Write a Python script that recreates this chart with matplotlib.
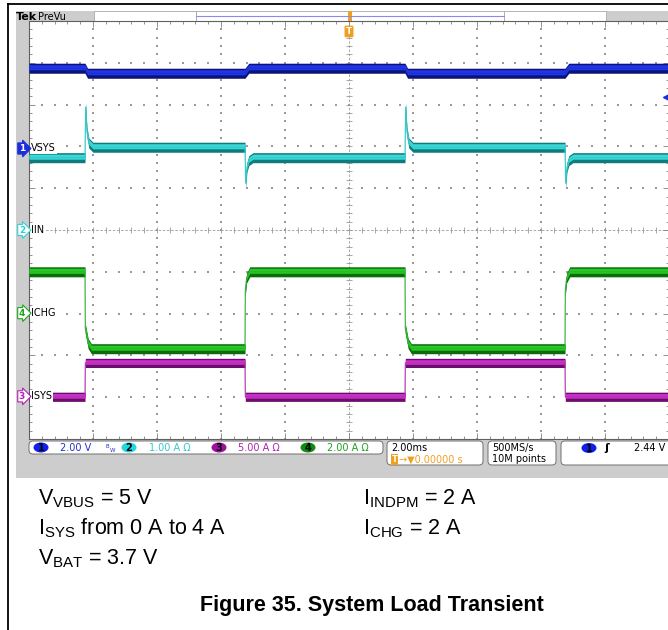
import matplotlib
matplotlib.use('Agg')
import matplotlib.pyplot as plt
from matplotlib.patches import Rectangle, FancyBboxPatch, Ellipse
import numpy as np

plt.rcParams['mathtext.fontset'] = 'custom'
plt.rcParams['mathtext.rm'] = 'Liberation Sans'
plt.rcParams['mathtext.bf'] = 'Liberation Sans:bold'

W, H = 668, 630

# load steps in ms (2 ms/div, trigger at 0), on / off / on / off
load_steps = [-8.25, -3.25, 1.75, 6.75]

# trace shapes at each edge: (dt in ms, level in screen divisions)
vbus_on = [(0.0, 3.87), (0.08, 3.75)]
vbus_off = [(0.0, 3.75), (0.12, 3.87)]
vsys_on = [(0.0, 1.73), (0.02, 2.94), (0.06, 2.35), (0.12, 2.08), (0.25, 1.98)]
vsys_off = [(0.0, 1.98), (0.02, 1.12), (0.06, 1.50), (0.12, 1.66), (0.25, 1.73)]
ichg_on = [(0.0, -1.00), (0.01, -2.36), (0.10, -2.72), (0.20, -2.84)]
ichg_off = [(0.0, -2.84), (0.01, -1.45), (0.05, -1.15), (0.15, -1.00)]
isys_on = [(0.0, -3.99), (0.01, -3.18)]
isys_off = [(0.0, -3.18), (0.01, -3.99)]

# channel markers: number, label, level (div)
chan_num = ['1', '2', '4', '3']
chan_name = ['VSYS', 'IIN', 'ICHG', 'ISYS']
chan_pos = [1.95, 0.0, -1.99, -3.98]

# status bar readouts
ch_scale = ['2.00 V', '1.00 A \u03a9', '5.00 A \u03a9', '2.00 A \u03a9']
timebase = '2.00ms'
trig_pos = '\u2192\u25bc0.00000 s'
rate = ['500MS/s', '10M points']
trig_level = '2.44 V'

notes_left = [r'V$_{\mathrm{VBUS}}$ = 5 V', r'I$_{\mathrm{SYS}}$ from 0 A to 4 A', r'V$_{\mathrm{BAT}}$ = 3.7 V']
notes_right = [r'I$_{\mathrm{INDPM}}$ = 2 A', r'I$_{\mathrm{CHG}}$ = 2 A']
title = 'Figure 35. System Load Transient'

BLUE = '#1a2ee0'
CYAN = '#2cd2d8'
MAG = '#b81cb8'
GRN = '#18a818'
ORANGE = '#f0a020'


def build(on, off):
    t = [-10.0]
    v = [on[0][1]]
    for i, t0 in enumerate(load_steps):
        shape = on if i % 2 == 0 else off
        for dt, lv in shape:
            t.append(t0 + dt)
            v.append(lv)
    t.append(10.0)
    v.append(v[-1])
    return np.array(t), np.array(v)


fig = plt.figure(figsize=(W / 100, H / 100), dpi=100)

# page / bezel decorations in pixel coordinates
pg = fig.add_axes([0, 0, 1, 1])
pg.set_xlim(0, W)
pg.set_ylim(H, 0)
pg.axis('off')
pg.plot([8, 8], [4, H], color='k', lw=1.3)
pg.plot([8, W], [4, 4], color='k', lw=1.3)
pg.add_patch(Rectangle((16, 11), W - 16, 467, fc='#cdcdcd', ec='none'))
pg.add_patch(Rectangle((94, 11), 102, 10, fc='white', ec='#a0a0a0', lw=0.5))
pg.add_patch(Rectangle((196, 11), 308, 10, fc='white', ec='#a0a0a0', lw=0.5))
pg.plot([196, 504], [16, 16], color='#8a8af0', lw=0.8)
pg.add_patch(Rectangle((504, 11), 102, 10, fc='white', ec='#a0a0a0', lw=0.5))
pg.add_patch(Rectangle((348, 11), 4, 10, fc=ORANGE, ec='none'))
pg.text(16, 20, 'Tek', fontsize=8, fontweight='bold', va='baseline', ha='left')
pg.text(38, 19.5, 'PreVu', fontsize=7, va='baseline', ha='left')

# status bar
pg.add_patch(FancyBboxPatch((29, 441), 354, 13, boxstyle='round,pad=0,rounding_size=4',
                            fc='white', ec='#707070', lw=0.7))
ell_x = [41, 129, 219, 308]
ell_c = ['#1020e8', '#20d8e0', '#a010a0', '#108c10']
txt_x = [60, 149, 238, 327]
txt_c = ['#2030d0', '#30c8d0', '#b020b0', '#20a020']
for i in range(4):
    pg.add_patch(Ellipse((ell_x[i], 447.5), 15, 10, fc=ell_c[i], ec='none'))
    pg.text(ell_x[i], 448, str(i + 1), fontsize=7, ha='center', va='center', fontweight='bold')
    pg.text(txt_x[i], 448, ch_scale[i], fontsize=7, ha='left', va='center', color=txt_c[i])
pg.text(106, 446, 'B', fontsize=4, color='#2030d0', ha='left', va='center')
pg.text(110, 450, 'W', fontsize=4, color='#2030d0', ha='left', va='center')

pg.add_patch(FancyBboxPatch((387, 441), 96, 24, boxstyle='round,pad=0,rounding_size=4',
                            fc='white', ec='#707070', lw=0.7))
pg.text(391, 448, timebase, fontsize=7, ha='left', va='center')
pg.text(394.5, 459.5, 'T', fontsize=6, ha='center', va='center', color='white', fontweight='bold',
        bbox=dict(boxstyle='square,pad=0.1', fc=ORANGE, ec='none'))
pg.text(399, 459.5, trig_pos, fontsize=7, ha='left', va='center', color=ORANGE)

pg.add_patch(FancyBboxPatch((488, 441), 68, 24, boxstyle='round,pad=0,rounding_size=4',
                            fc='white', ec='#707070', lw=0.7))
pg.text(492, 448, rate[0], fontsize=7, ha='left', va='center')
pg.text(492, 459.5, rate[1], fontsize=7, ha='left', va='center')

pg.add_patch(FancyBboxPatch((561, 441), 120, 24, boxstyle='round,pad=0,rounding_size=4',
                            fc='white', ec='#707070', lw=0.7))
pg.add_patch(Ellipse((589, 448), 15, 10, fc='#1020e8', ec='none'))
pg.text(589, 448.5, '1', fontsize=7, ha='center', va='center', fontweight='bold')
pg.text(607, 448, '\u0283', fontsize=8, ha='center', va='center', fontweight='bold')
pg.text(665, 448, trig_level, fontsize=7, ha='right', va='center')

# notes under the screenshot
for i, s in enumerate(notes_left):
    pg.text(38, 504 + 30 * i, s, fontsize=15.5, family='Liberation Sans', ha='left', va='baseline')
for i, s in enumerate(notes_right):
    pg.text(363, 504 + 30 * i, s, fontsize=15.5, family='Liberation Sans', ha='left', va='baseline')
pg.text(371.5, 611, title, fontsize=15.5, family='Liberation Sans', fontweight='bold',
        ha='center', va='baseline')

# scope screen
ax = fig.add_axes([29 / W, 1 - 439 / H, 640 / W, 418 / H])
ax.set_xlim(-10, 10)
ax.set_ylim(-5, 5)
ax.set_facecolor('white')
for sp in ax.spines.values():
    sp.set_color('#606060')
    sp.set_linewidth(0.8)

xmin = np.arange(-10, 10.01, 0.4)
ymin = np.arange(-5, 5.01, 0.2)
ax.set_xticks(np.arange(-10, 10.01, 2))
ax.set_xticks(xmin, minor=True)
ax.set_yticks(np.arange(-5, 5.01, 1))
ax.set_yticks(ymin, minor=True)
ax.tick_params(which='both', direction='in', top=True, right=True, bottom=True, left=True,
               labelbottom=False, labelleft=False, color='#808080', width=0.6)
ax.tick_params(which='major', length=4)
ax.tick_params(which='minor', length=2.2)

gc = '#9a9a9a'
for xv in np.arange(-8, 9, 2):
    if xv != 0:
        ax.scatter(np.full(len(ymin), xv), ymin, s=0.7, marker='s', color=gc, lw=0, zorder=1)
for yv in np.arange(-4, 5, 1):
    if yv != 0:
        ax.scatter(xmin, np.full(len(xmin), yv), s=0.7, marker='s', color=gc, lw=0, zorder=1)
ax.axhline(0, color=gc, lw=0.6, ls=(0, (3, 2)), zorder=1)
ax.axvline(0, color=gc, lw=0.6, ls=(0, (3, 2)), zorder=1)
ax.plot(xmin, np.zeros(len(xmin)), ls='none', marker='|', ms=4, mew=0.6, color=gc, zorder=1)
ax.plot(np.zeros(len(ymin)), ymin, ls='none', marker='_', ms=4, mew=0.6, color=gc, zorder=1)

traces = [
    (vbus_on, vbus_off, '#2236e6', '#0a1478', BLUE, 0.12),
    (vsys_on, vsys_off, '#3cd8d8', '#0e7c7c', '#30c8c8', 0.12),
    (ichg_on, ichg_off, '#22cc22', '#0c6c0c', '#30b030', 0.12),
    (isys_on, isys_off, '#cc30cc', '#6c0c6c', '#b030b0', 0.11),
]
for on, off, light, dark, line_c, h in traces:
    t, v = build(on, off)
    ax.fill_between(t, v - h, v + h, color=dark, lw=0, zorder=3)
    ax.fill_between(t, v - 0.3 * h, v + 0.7 * h, color=light, lw=0, zorder=3)
    ax.plot(t, v, color=line_c, lw=0.8, zorder=4)

mark_c = [BLUE, CYAN, GRN, MAG]
for i in range(4):
    filled = i == 0
    ax.text(-10.22, chan_pos[i], chan_num[i], fontsize=6.5, ha='center', va='center',
            color='white' if filled else mark_c[i], fontweight='bold', clip_on=False, zorder=7,
            bbox=dict(boxstyle='rarrow,pad=0.12', fc=mark_c[i] if filled else 'white',
                      ec=mark_c[i], lw=0.8))
    ax.text(-9.93, chan_pos[i], chan_name[i], fontsize=7, ha='left', va='center', zorder=6,
            bbox=dict(boxstyle='square,pad=0.1', fc='white', ec='none'))

# trigger position and trigger level markers
ax.text(0, 4.75, 'T', fontsize=6.5, ha='center', va='center', color='white', fontweight='bold',
        zorder=7, bbox=dict(boxstyle='round,pad=0.15', fc=ORANGE, ec='none'))
ax.plot(9.9, 3.18, marker='<', ms=5, color=BLUE, ls='none', clip_on=False, zorder=7)

fig.savefig('out.png', dpi=100)
